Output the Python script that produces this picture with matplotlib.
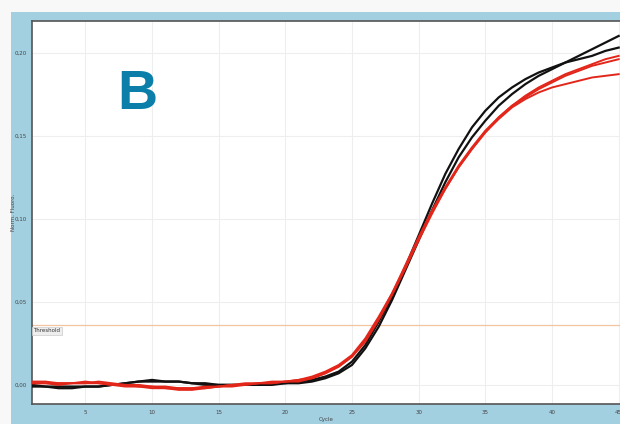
import matplotlib
matplotlib.use("Agg")
import matplotlib.pyplot as plt
from matplotlib.patches import Rectangle
from matplotlib.ticker import FuncFormatter

# cycles and normalized fluorescence
cycles = list(range(1, 46))

black_a = [0.000, -0.001, -0.001, -0.001, -0.001, -0.001, 0.000, 0.001, 0.002, 0.002,
           0.002, 0.002, 0.001, 0.001, 0.000, 0.000, 0.000, 0.000, 0.001, 0.001,
           0.002, 0.003, 0.005, 0.008, 0.014, 0.024, 0.038, 0.053, 0.071, 0.090,
           0.109, 0.127, 0.142, 0.155, 0.165, 0.173, 0.179, 0.184, 0.188, 0.191,
           0.194, 0.196, 0.198, 0.201, 0.203]
black_b = [-0.001, -0.001, -0.002, -0.002, -0.001, -0.001, 0.000, 0.001, 0.002, 0.003,
           0.002, 0.002, 0.001, 0.000, 0.000, 0.000, 0.000, 0.000, 0.000, 0.001,
           0.001, 0.002, 0.004, 0.007, 0.012, 0.022, 0.035, 0.051, 0.069, 0.087,
           0.105, 0.122, 0.137, 0.149, 0.159, 0.168, 0.175, 0.181, 0.186, 0.190,
           0.194, 0.198, 0.202, 0.206, 0.210]
red_a = [0.001, 0.001, 0.001, 0.001, 0.002, 0.001, 0.000, -0.001, -0.001, -0.002,
         -0.002, -0.002, -0.002, -0.001, -0.001, 0.000, 0.001, 0.001, 0.002, 0.002,
         0.003, 0.005, 0.008, 0.012, 0.018, 0.028, 0.041, 0.055, 0.071, 0.088,
         0.104, 0.118, 0.131, 0.142, 0.152, 0.161, 0.168, 0.174, 0.179, 0.183,
         0.187, 0.190, 0.193, 0.196, 0.198]
red_b = [0.002, 0.002, 0.001, 0.001, 0.001, 0.001, 0.000, 0.000, -0.001, -0.001,
         -0.002, -0.003, -0.003, -0.002, -0.001, 0.000, 0.000, 0.001, 0.001, 0.002,
         0.003, 0.004, 0.007, 0.011, 0.017, 0.027, 0.040, 0.055, 0.072, 0.089,
         0.105, 0.119, 0.132, 0.143, 0.153, 0.161, 0.168, 0.173, 0.178, 0.182,
         0.186, 0.189, 0.192, 0.194, 0.196]
red_c = [0.001, 0.001, 0.000, 0.001, 0.001, 0.002, 0.001, 0.000, 0.000, -0.001,
         -0.001, -0.002, -0.002, -0.002, -0.001, -0.001, 0.000, 0.001, 0.001, 0.002,
         0.002, 0.004, 0.007, 0.011, 0.017, 0.026, 0.039, 0.054, 0.070, 0.087,
         0.103, 0.118, 0.131, 0.142, 0.152, 0.160, 0.167, 0.172, 0.176, 0.179,
         0.181, 0.183, 0.185, 0.186, 0.187]

threshold = 0.036
x_ticks = [5, 10, 15, 20, 25, 30, 35, 40, 45]
y_ticks = [0.00, 0.05, 0.10, 0.15, 0.20]

fig = plt.figure(figsize=(6.2, 4.24), dpi=100)
fig.patch.set_facecolor('#f8f8f8')
# blue instrument-window panel behind the axes
fig.patches.append(Rectangle((11 / 620, 0), 1, 1 - 12 / 424, transform=fig.transFigure,
                             facecolor='#a3d0e1', edgecolor='none', zorder=-5))

ax = fig.add_axes([32 / 620, 20 / 424, 1 - 32 / 620, (404 - 21) / 424])
ax.set_zorder(1)
ax.set_facecolor('white')

for s in [black_a, black_b]:
    ax.plot(cycles, s, color='#111111', lw=1.6, zorder=3)
for s in [red_a, red_b, red_c]:
    ax.plot(cycles, s, color='#e3261a', lw=1.4, zorder=4)

ax.axhline(threshold, color='#f2c4a0', lw=0.9, zorder=2)
ax.text(1.1, threshold - 0.002, 'Threshold', fontsize=4, color='#333333', va='top', ha='left',
        bbox=dict(facecolor='#eeeeee', edgecolor='#cccccc', pad=1, lw=0.5), zorder=5)

ax.text(0.179, 0.807, 'B', transform=ax.transAxes, fontsize=40, fontweight='bold',
        color='#0b7fa9', family='Liberation Sans', ha='center', va='center', zorder=6)

ax.set_xlim(1, 45.1)
ax.set_ylim(-0.0115, 0.219)
ax.set_xticks(x_ticks)
ax.set_yticks(y_ticks)
ax.yaxis.set_major_formatter(FuncFormatter(lambda v, p: f"{v:.2f}".replace('.', ',')))
ax.tick_params(labelsize=4, colors='#444444', length=0, pad=4)
ax.grid(True, color='#eeeeee', lw=0.8, zorder=0)
for side in ['left', 'bottom', 'top']:
    ax.spines[side].set_color('#555555')
    ax.spines[side].set_linewidth(1.2)
ax.spines['right'].set_visible(False)

ax.set_xlabel('Cycle', fontsize=4, color='#444444')
ax.xaxis.set_label_coords(0.5, -0.035)
ax.set_ylabel('Norm. Fluoro.', fontsize=4, color='#444444')
ax.yaxis.set_label_coords(-0.028, 0.5)

fig.savefig('out.png', dpi=100, facecolor=fig.get_facecolor())
